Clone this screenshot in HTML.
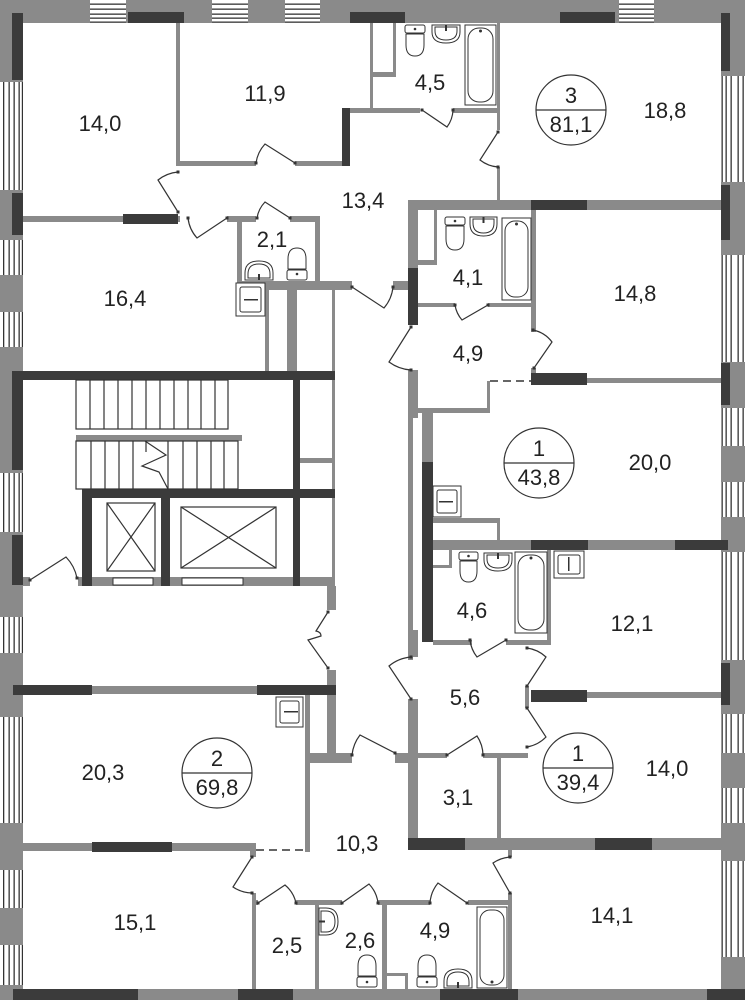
<!DOCTYPE html>
<html><head><meta charset="utf-8"><style>
html,body{margin:0;padding:0;background:#fff;}
svg{display:block;}
text{font-family:"Liberation Sans",Arial,sans-serif;font-size:22px;fill:#222;text-anchor:middle;}
</style></head><body>
<svg width="745" height="1000" viewBox="0 0 745 1000" xmlns="http://www.w3.org/2000/svg">
<defs>
<pattern id="wl" patternUnits="userSpaceOnUse" x="0" y="0" width="23" height="10">
<rect width="23" height="10" fill="#fff"/>
<rect x="3" width="1.3" height="10" fill="#333"/><rect x="8.5" width="1.3" height="10" fill="#333"/><rect x="13.5" width="1.3" height="10" fill="#333"/><rect x="18.5" width="1.3" height="10" fill="#333"/><rect x="21.8" width="1.3" height="10" fill="#333"/>
</pattern>
<pattern id="wr" patternUnits="userSpaceOnUse" x="721" y="0" width="24" height="10">
<rect width="24" height="10" fill="#fff"/>
<rect x="0.5" width="1.3" height="10" fill="#333"/><rect x="4.5" width="1.3" height="10" fill="#333"/><rect x="9.5" width="1.3" height="10" fill="#333"/><rect x="16.5" width="1.3" height="10" fill="#333"/><rect x="21.5" width="1.3" height="10" fill="#333"/>
</pattern>
<pattern id="wt" patternUnits="userSpaceOnUse" x="0" y="0" width="10" height="23">
<rect width="10" height="23" fill="#fff"/>
<rect y="3.5" width="10" height="1.3" fill="#333"/><rect y="8.5" width="10" height="1.3" fill="#333"/><rect y="13.5" width="10" height="1.3" fill="#333"/><rect y="17.5" width="10" height="1.3" fill="#333"/><rect y="21.5" width="10" height="1.3" fill="#333"/>
</pattern>
</defs>

<!-- outer walls -->
<g fill="#8a8a8a">
<rect x="0" y="0" width="745" height="23"/>
<rect x="0" y="0" width="23" height="1000"/>
<rect x="721" y="0" width="24" height="1000"/>
<rect x="0" y="989" width="745" height="11"/>
</g>
<!-- windows -->
<g fill="url(#wt)">
<rect x="90" y="0" width="36" height="23"/><rect x="212" y="0" width="36" height="23"/><rect x="285" y="0" width="35" height="23"/><rect x="619" y="0" width="35" height="23"/>
</g>
<g fill="url(#wl)">
<rect x="0" y="82" width="23" height="108"/><rect x="0" y="240" width="23" height="35"/><rect x="0" y="312" width="23" height="35"/><rect x="0" y="473" width="23" height="59"/><rect x="0" y="617" width="23" height="36"/><rect x="0" y="717" width="23" height="106"/><rect x="0" y="870" width="23" height="38"/><rect x="0" y="945" width="23" height="40"/>
</g>
<g fill="url(#wr)">
<rect x="721" y="76" width="24" height="106"/><rect x="721" y="255" width="24" height="107"/><rect x="721" y="408" width="24" height="38"/><rect x="721" y="482" width="24" height="35"/><rect x="721" y="552" width="24" height="108"/><rect x="721" y="714" width="24" height="39"/><rect x="721" y="788" width="24" height="35"/><rect x="721" y="861" width="24" height="96"/>
</g>
<!-- dark outer segments -->
<g fill="#3b3b3b">
<rect x="128" y="12" width="56" height="11"/><rect x="350" y="12" width="55" height="11"/><rect x="560" y="12" width="55" height="11"/>
<rect x="12" y="13" width="11" height="67"/><rect x="12" y="193" width="11" height="42"/><rect x="12" y="371" width="11" height="99"/><rect x="12" y="535" width="11" height="50"/>
<rect x="721" y="13" width="9" height="58"/><rect x="721" y="185" width="9" height="55"/><rect x="721" y="363" width="9" height="42"/><rect x="721" y="663" width="9" height="42"/>
<rect x="13" y="989" width="125" height="11"/><rect x="238" y="989" width="55" height="11"/><rect x="440" y="989" width="78" height="11"/><rect x="707" y="989" width="38" height="11"/>
</g>

<!-- interior gray walls -->
<g fill="#8a8a8a">
<rect x="176" y="23" width="4" height="142"/>
<rect x="176" y="161" width="80" height="5"/>
<rect x="295" y="161" width="47" height="5"/>
<rect x="342" y="108" width="78" height="5"/>
<rect x="453" y="108" width="47" height="5"/>
<rect x="370" y="23" width="3" height="85"/>
<rect x="393" y="23" width="3" height="54"/><rect x="373" y="72" width="23" height="5"/>
<rect x="497" y="23" width="3" height="107"/>
<rect x="497" y="167" width="3" height="38"/>
<rect x="23" y="216" width="157" height="6"/>
<rect x="227" y="216" width="29" height="6"/><rect x="290" y="216" width="30" height="6"/>
<rect x="237" y="216" width="5" height="67"/><rect x="315" y="216" width="5" height="67"/>
<rect x="237" y="281" width="115" height="9"/>
<rect x="265" y="290" width="4" height="81"/><rect x="287" y="290" width="10" height="81"/>
<rect x="332" y="290" width="3" height="287"/>
<rect x="393" y="281" width="15" height="9"/>
<rect x="408" y="200" width="313" height="10"/>
<rect x="408" y="200" width="10" height="68"/>
<rect x="434" y="210" width="3" height="55"/><rect x="418" y="260" width="19" height="5"/>
<rect x="418" y="303" width="37" height="4"/><rect x="488" y="303" width="48" height="4"/>
<rect x="531" y="210" width="5" height="122"/><rect x="531" y="368" width="5" height="15"/>
<rect x="531" y="378" width="190" height="5"/>
<rect x="487" y="381" width="3" height="32"/><rect x="408" y="408" width="82" height="5"/>
<rect x="408" y="370" width="10" height="48"/><rect x="408" y="418" width="5" height="242"/>
<rect x="422" y="408" width="11" height="54"/>
<rect x="433" y="518" width="67" height="5"/><rect x="497" y="518" width="3" height="25"/>
<rect x="433" y="540" width="288" height="10"/>
<rect x="449" y="550" width="3" height="18"/><rect x="433" y="565" width="19" height="3"/>
<rect x="547" y="550" width="4" height="95"/>
<rect x="433" y="640" width="39" height="5"/><rect x="506" y="640" width="45" height="5"/>
<rect x="408" y="630" width="10" height="27"/>
<rect x="525" y="686" width="4" height="22"/>
<rect x="587" y="692" width="134" height="6"/>
<rect x="408" y="699" width="10" height="139"/>
<rect x="395" y="753" width="15" height="10"/>
<rect x="395" y="753" width="52" height="5"/><rect x="483" y="753" width="45" height="5"/>
<rect x="497" y="757" width="4" height="81"/>
<rect x="408" y="838" width="313" height="12"/>
<rect x="508" y="850" width="4" height="7"/>
<rect x="327" y="586" width="9" height="24"/><rect x="327" y="670" width="9" height="93"/>
<rect x="307" y="753" width="45" height="10"/>
<rect x="92" y="686" width="165" height="8"/>
<rect x="305" y="695" width="5" height="157"/>
<rect x="23" y="843" width="232" height="8"/>
<rect x="250" y="843" width="6" height="14"/>
<rect x="252" y="893" width="4" height="96"/>
<rect x="252" y="900" width="6" height="5"/><rect x="296" y="900" width="46" height="5"/><rect x="378" y="900" width="52" height="5"/><rect x="468" y="900" width="44" height="5"/>
<rect x="315" y="905" width="4" height="84"/><rect x="382" y="905" width="5" height="84"/>
<rect x="386" y="973" width="22" height="3"/><rect x="405" y="973" width="3" height="16"/>
<rect x="508" y="893" width="4" height="96"/>
<rect x="23" y="577" width="7" height="9"/>
<rect x="78" y="577" width="257" height="9"/>
<rect x="300" y="458" width="35" height="5"/>
<rect x="76" y="435" width="166" height="6"/>
</g>
<!-- interior dark walls -->
<g fill="#3b3b3b">
<rect x="342" y="108" width="8" height="58"/>
<rect x="123" y="214" width="55" height="10"/>
<rect x="531" y="200" width="56" height="10"/>
<rect x="408" y="268" width="10" height="57"/>
<rect x="531" y="373" width="56" height="12"/>
<rect x="422" y="462" width="11" height="180"/>
<rect x="531" y="540" width="57" height="10"/><rect x="675" y="540" width="53" height="10"/>
<rect x="531" y="690" width="56" height="12"/>
<rect x="408" y="838" width="57" height="12"/><rect x="595" y="838" width="57" height="12"/>
<rect x="13" y="685" width="79" height="10"/><rect x="257" y="685" width="79" height="10"/>
<rect x="92" y="842" width="80" height="10"/>
<rect x="13" y="371" width="322" height="9"/>
<rect x="293" y="371" width="7" height="215"/>
<rect x="82" y="489" width="253" height="9"/>
<rect x="82" y="489" width="10" height="97"/>
<rect x="161" y="498" width="9" height="88"/>
</g>

<!-- stairs, elevators -->
<g fill="none" stroke="#333" stroke-width="1.2">
<rect x="76" y="380" width="152" height="49"/>
<path d="M90,380V429M104,380V429M118,380V429M132,380V429M146,380V429M160,380V429M174,380V429M188,380V429M201,380V429M215,380V429"/>
<rect x="76" y="441" width="162" height="48"/>
<path d="M91,441V489M105,441V489M119,441V489M133,441V489M146,441V452M168,441V489M183,441V489M197,441V489M211,441V489M224,441V489"/>
<path d="M145,441L166,455L142,466L159,472L168,489"/>
<rect x="107" y="503" width="48" height="68"/><path d="M107,503L155,571M155,503L107,571"/>
<rect x="181" y="507" width="95" height="61"/><path d="M181,507L276,568M276,507L181,568"/>
</g>
<rect x="113" y="578" width="40" height="7" fill="#fff" stroke="#333" stroke-width="1"/>
<rect x="182" y="578" width="61" height="7" fill="#fff" stroke="#333" stroke-width="1"/>

<!-- dashed -->
<g stroke="#333" stroke-width="1.5" stroke-dasharray="8,5" fill="none">
<path d="M490,381H531"/>
<path d="M256,850H305"/>
</g>

<!-- doors -->
<g fill="none" stroke="#333" stroke-width="1.2">
<path d="M178,212L158,180A37.7,37.7 0 0 1 178,172"/>
<path d="M227,218L197,238A36,36 0 0 1 188,218"/>
<path d="M295,163L265,144A35.5,35.5 0 0 0 256,163"/>
<path d="M290,218L265,202A29.7,29.7 0 0 0 257,218"/>
<path d="M422,110L447,127A30.2,30.2 0 0 0 453,110"/>
<path d="M498,132L480,160A33.3,33.3 0 0 0 498,167"/>
<path d="M352,287L384,308A38.3,38.3 0 0 0 393,287"/>
<path d="M488,305L462,320A30,30 0 0 1 455,305"/>
<path d="M411,327L389,362A41.3,41.3 0 0 0 411,370"/>
<path d="M534,368L552,342A31.6,31.6 0 0 0 533,330"/>
<path d="M30,580L66,557A42.7,42.7 0 0 1 77,578"/>
<path d="M328,612L316,631Q321,632 321,636L308,640L328,668"/>
<path d="M395,753L360,735A39.4,39.4 0 0 0 352,755"/>
<path d="M411,699L389,666A39.7,39.7 0 0 1 411,657"/>
<path d="M506,640L477,657A33.6,33.6 0 0 1 470,640"/>
<path d="M527,686L546,657A34.7,34.7 0 0 0 527,648"/>
<path d="M527,708L546,737A34.7,34.7 0 0 1 527,747"/>
<path d="M447,755L477,736A35.5,35.5 0 0 1 483,755"/>
<path d="M252,857L233,887A35.5,35.5 0 0 0 252,893"/>
<path d="M258,903L285,885A32.4,32.4 0 0 1 296,903"/>
<path d="M342,903L369,884A33,33 0 0 1 378,903"/>
<path d="M467,903L438,883A35.2,35.2 0 0 0 430,903"/>
<path d="M510,893L493,863A34.5,34.5 0 0 1 510,857"/>
</g>
<g fill="#333">
<rect x="176.5" y="210.5" width="3" height="3"/><rect x="176.5" y="170.5" width="3" height="3"/>
<rect x="225.5" y="216.5" width="3" height="3"/><rect x="186.5" y="216.5" width="3" height="3"/>
<rect x="293.5" y="161.5" width="3" height="3"/><rect x="254.5" y="161.5" width="3" height="3"/>
<rect x="288.5" y="216.5" width="3" height="3"/><rect x="255.5" y="216.5" width="3" height="3"/>
<rect x="420.5" y="108.5" width="3" height="3"/><rect x="451.5" y="108.5" width="3" height="3"/>
<rect x="496.5" y="130.5" width="3" height="3"/><rect x="496.5" y="165.5" width="3" height="3"/>
<rect x="350.5" y="285.5" width="3" height="3"/><rect x="391.5" y="285.5" width="3" height="3"/>
<rect x="486.5" y="303.5" width="3" height="3"/><rect x="453.5" y="303.5" width="3" height="3"/>
<rect x="409.5" y="325.5" width="3" height="3"/><rect x="409.5" y="368.5" width="3" height="3"/>
<rect x="532.5" y="366.5" width="3" height="3"/><rect x="531.5" y="328.5" width="3" height="3"/>
<rect x="28.5" y="578.5" width="3" height="3"/><rect x="75.5" y="576.5" width="3" height="3"/>
<rect x="326.5" y="610.5" width="3" height="3"/><rect x="326.5" y="666.5" width="3" height="3"/>
<rect x="393.5" y="751.5" width="3" height="3"/><rect x="350.5" y="753.5" width="3" height="3"/>
<rect x="409.5" y="697.5" width="3" height="3"/><rect x="409.5" y="655.5" width="3" height="3"/>
<rect x="504.5" y="638.5" width="3" height="3"/><rect x="468.5" y="638.5" width="3" height="3"/>
<rect x="525.5" y="684.5" width="3" height="3"/><rect x="525.5" y="646.5" width="3" height="3"/>
<rect x="525.5" y="706.5" width="3" height="3"/><rect x="525.5" y="745.5" width="3" height="3"/>
<rect x="445.5" y="753.5" width="3" height="3"/><rect x="481.5" y="753.5" width="3" height="3"/>
<rect x="250.5" y="855.5" width="3" height="3"/><rect x="250.5" y="891.5" width="3" height="3"/>
<rect x="256.5" y="901.5" width="3" height="3"/><rect x="294.5" y="901.5" width="3" height="3"/>
<rect x="340.5" y="901.5" width="3" height="3"/><rect x="376.5" y="901.5" width="3" height="3"/>
<rect x="465.5" y="901.5" width="3" height="3"/><rect x="428.5" y="901.5" width="3" height="3"/>
<rect x="508.5" y="891.5" width="3" height="3"/><rect x="508.5" y="855.5" width="3" height="3"/>
</g>

<!-- fixtures -->
<g fill="#fff" stroke="#333" stroke-width="1">
<!-- toilets tank top -->
<rect x="405" y="25" width="20" height="8" rx="2"/><path d="M406,34V45Q406,56 415,56Q424,56 424,45V34Z"/>
<rect x="445" y="217" width="20" height="8" rx="2"/><path d="M446,226V239Q446,250 455,250Q464,250 464,239V226Z"/>
<rect x="459" y="552" width="19" height="8" rx="2"/><path d="M460,561V571Q460,582 468.5,582Q477,582 477,571V561Z"/>
<!-- toilets tank bottom -->
<rect x="287" y="270" width="20" height="10" rx="2"/><path d="M288,269V259Q288,248 297,248Q306,248 306,259V269Z"/>
<rect x="357" y="977" width="20" height="10" rx="2"/><path d="M358,976V966Q358,955 367,955Q376,955 376,966V976Z"/>
<rect x="417" y="977" width="20" height="10" rx="2"/><path d="M418,976V966Q418,955 427,955Q436,955 436,966V976Z"/>
<!-- basins -->
<path d="M432,25H460V32Q460,43 446,43Q432,43 432,32Z"/><path d="M435,27H457V31Q457,40 446,40Q435,40 435,31Z"/>
<path d="M470,217H497V224Q497,236 483.5,236Q470,236 470,224Z"/><path d="M473,219H494V223Q494,233 483.5,233Q473,233 473,223Z"/>
<path d="M484,553H512V560Q512,571 498,571Q484,571 484,560Z"/><path d="M487,555H509V559Q509,568 498,568Q487,568 487,559Z"/>
<path d="M245,280H273V273Q273,261 259,261Q245,261 245,273Z"/><path d="M248,278H270V274Q270,264 259,264Q248,264 248,274Z"/>
<path d="M444,988H472V981Q472,969 458,969Q444,969 444,981Z"/><path d="M447,986H469V982Q469,972 458,972Q447,972 447,982Z"/>
<path d="M319,908V935H326Q338,935 338,921.5Q338,908 326,908Z"/><path d="M321,911V932H326Q335,932 335,921.5Q335,911 326,911Z"/>
<!-- baths -->
<rect x="465" y="25" width="31" height="80"/><rect x="468" y="28" width="25" height="74" rx="11"/>
<rect x="502" y="218" width="29" height="82"/><rect x="505" y="221" width="23" height="76" rx="10"/>
<rect x="515" y="552" width="32" height="81"/><rect x="518" y="555" width="26" height="75" rx="11"/>
<rect x="477" y="907" width="30" height="81"/><rect x="480" y="910" width="24" height="75" rx="10"/>
<!-- kitchen sinks -->
<rect x="236" y="283" width="29" height="33"/><rect x="240" y="287" width="21" height="25" rx="2"/>
<rect x="433" y="486" width="28" height="31"/><rect x="437" y="490" width="20" height="23" rx="2"/>
<rect x="554" y="551" width="30" height="27"/><rect x="558" y="555" width="22" height="19" rx="2"/>
<rect x="276" y="697" width="27" height="30"/><rect x="280" y="701" width="19" height="22" rx="2"/>
</g>
<g fill="#333">
<circle cx="415" cy="29" r="1.3"/><circle cx="455" cy="221" r="1.3"/><circle cx="468.5" cy="556" r="1.3"/>
<circle cx="297" cy="274" r="1.3"/><circle cx="367" cy="982" r="1.3"/><circle cx="427" cy="982" r="1.3"/>
<rect x="445" y="25" width="2" height="6"/><rect x="482.5" y="217" width="2" height="6"/><rect x="497" y="553" width="2" height="6"/>
<rect x="258" y="274" width="2" height="6"/><rect x="457" y="982" width="2" height="6"/><rect x="319" y="920.5" width="6" height="2"/>
<circle cx="480.5" cy="31" r="1.5"/><circle cx="516.5" cy="224" r="1.5"/><circle cx="531" cy="558" r="1.5"/><circle cx="492" cy="982" r="1.5"/>
<rect x="244" y="299" width="14" height="1.5"/><rect x="439" y="501" width="14" height="1.5"/><rect x="568" y="557" width="1.5" height="14"/><rect x="284" y="711" width="14" height="1.5"/>
</g>

<!-- apartment circles -->
<g fill="none" stroke="#333" stroke-width="1.2">
<circle cx="571" cy="110" r="35"/><path d="M536,110H606"/>
<circle cx="539" cy="463" r="35"/><path d="M504,463H574"/>
<circle cx="217" cy="773" r="35"/><path d="M182,773H252"/>
<circle cx="578" cy="768" r="35"/><path d="M543,768H613"/>
</g>
<text x="571" y="103">3</text><text x="571" y="132">81,1</text>
<text x="539" y="456">1</text><text x="539" y="485">43,8</text>
<text x="217" y="766">2</text><text x="217" y="795">69,8</text>
<text x="578" y="761">1</text><text x="578" y="790">39,4</text>

<!-- room areas -->
<text x="100" y="131">14,0</text>
<text x="265" y="101">11,9</text>
<text x="430" y="90">4,5</text>
<text x="665" y="118">18,8</text>
<text x="363" y="208">13,4</text>
<text x="272" y="247">2,1</text>
<text x="125" y="306">16,4</text>
<text x="468" y="285">4,1</text>
<text x="635" y="301">14,8</text>
<text x="468" y="361">4,9</text>
<text x="650" y="470">20,0</text>
<text x="472" y="618">4,6</text>
<text x="632" y="631">12,1</text>
<text x="465" y="705">5,6</text>
<text x="667" y="776">14,0</text>
<text x="458" y="805">3,1</text>
<text x="103" y="780">20,3</text>
<text x="357" y="851">10,3</text>
<text x="135" y="930">15,1</text>
<text x="287" y="953">2,5</text>
<text x="360" y="948">2,6</text>
<text x="435" y="938">4,9</text>
<text x="612" y="923">14,1</text>
</svg>
</body></html>
